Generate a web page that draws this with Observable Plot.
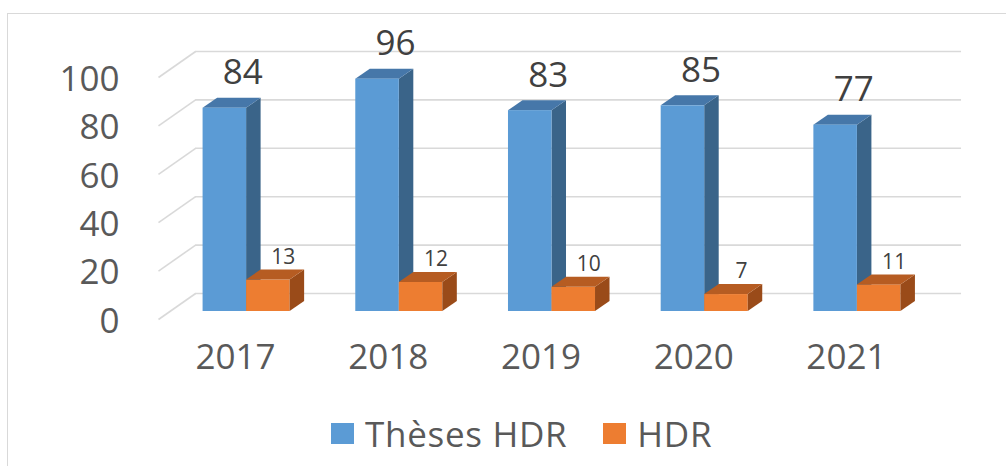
<!DOCTYPE html>
<html><head><meta charset="utf-8">
<script src="https://cdn.jsdelivr.net/npm/d3@7"></script>
<script src="https://cdn.jsdelivr.net/npm/@observablehq/plot@0.6"></script>
<style>
body{margin:0;background:#fff;width:1006px;height:466px;overflow:hidden;position:relative;font-family:"Open Sans",sans-serif;}
#frame{position:absolute;left:7px;top:13px;width:1100px;height:600px;border:1.5px solid #d9d9d9;}
#chart{position:absolute;left:0;top:0;}
#legend{position:absolute;left:331px;top:410px;display:flex;align-items:center;font-size:35px;color:#595959;line-height:normal;white-space:nowrap;letter-spacing:0.7px;}
.sw{width:23px;height:21px;display:inline-block;margin-right:11px;}
</style></head><body>
<div id="frame"></div>
<div id="chart"></div>
<div id="legend"></div>
<script>
const years = ["2017", "2018", "2019", "2020", "2021"];
const theses = [84, 96, 83, 85, 77];
const hdr = [13, 12, 10, 7, 11];
const seriesNames = ["Thèses HDR", "HDR"];
const yTicks = [0, 20, 40, 60, 80, 100];

// colours: front, top, side
const palette = [
  {front: "#5b9bd5", top: "#4677a9", side: "#3a6489"},
  {front: "#ed7d31", top: "#b65c22", side: "#9a4b19"}
];

// layout constants (x in group units, y in value units)
const W = 0.285;      // bar width
const DX = 0.095;     // bar depth, horizontal
const DY = 4.13;      // bar depth, vertical
const PXU = 100 / 242; // value units per pixel
const WALL_X0 = -0.334, WALL_X1 = 4.682, FLOOR_X0 = -0.577;
const FRONT_OFF = -8 * PXU, BACK_OFF = 18 * PXU;

const values = [theses, hdr];
const bars = years.flatMap((yr, i) => [0, 1].map(s => {
  const x1 = i - W + s * W;
  return {i, s, yr, v: values[s][i], x1, x2: x1 + W, id: yr + "-" + s};
}));

const sidePts = s => bars.filter(b => b.s === s).flatMap(b => [
  {id: b.id, x: b.x2, y1: 0, y2: b.v},
  {id: b.id, x: b.x2 + DX, y1: DY, y2: b.v + DY}
]);
const topPts = s => bars.filter(b => b.s === s).flatMap(b => [
  {id: b.id, y: b.v, x1: b.x1, x2: b.x2},
  {id: b.id, y: b.v + DY, x1: b.x1 + DX, x2: b.x2 + DX}
]);

const chart = Plot.plot({
  width: 1006,
  height: 400,
  marginLeft: 169.75,
  marginRight: 72.75,
  marginTop: 69,
  marginBottom: 89,
  x: {domain: [-0.5, 4.5], axis: null},
  y: {domain: [0, 100]},
  style: {fontFamily: "Open Sans", background: "transparent", overflow: "visible"},
  marks: [
    Plot.ruleY(yTicks, {y: d => d, x1: WALL_X0, x2: WALL_X1, dy: -18, stroke: "#d9d9d9", strokeWidth: 1.6}),
    Plot.link(yTicks, {x1: FLOOR_X0, y1: d => d + FRONT_OFF, x2: WALL_X0, y2: d => d + BACK_OFF, stroke: "#d9d9d9", strokeWidth: 1.6}),
    Plot.axisY(yTicks, {tickSize: 0, tickPadding: 50.75, dy: 10, fontSize: 35, fill: "#595959", label: null}),
    Plot.text(years, {x: (d, i) => i, frameAnchor: "bottom", dy: 57, dx: -11, text: d => d, fontSize: 35, fill: "#595959"}),
    // blue: side & top first, then front
    Plot.areaY(sidePts(0), {x: "x", y1: "y1", y2: "y2", z: "id", fill: palette[0].side}),
    Plot.areaX(topPts(0), {y: "y", x1: "x1", x2: "x2", z: "id", fill: palette[0].top}),
    Plot.rectY(bars.filter(b => b.s === 0), {x1: "x1", x2: "x2", y1: 0, y2: "v", fill: palette[0].front}),
    // orange
    Plot.rectY(bars.filter(b => b.s === 1), {x1: "x1", x2: "x2", y1: 0, y2: "v", fill: palette[1].front}),
    Plot.areaY(sidePts(1), {x: "x", y1: "y1", y2: "y2", z: "id", fill: palette[1].side}),
    Plot.areaX(topPts(1), {y: "y", x1: "x1", x2: "x2", z: "id", fill: palette[1].top}),
    Plot.text(bars.filter(b => b.s === 0), {x: d => (d.x1 + d.x2) / 2 + 0.118, y: "v", dy: -35, text: d => String(d.v), fontSize: 35, fill: "#404040"}),
    Plot.text(bars.filter(b => b.s === 1), {x: d => (d.x1 + d.x2) / 2 + 0.098, y: "v", dy: -23, text: d => String(d.v), fontSize: 21, fill: "#404040"})
  ]
});
document.getElementById("chart").appendChild(chart);

const legend = document.getElementById("legend");
seriesNames.forEach((name, s) => {
  const item = document.createElement("span");
  item.style.display = "inline-flex";
  item.style.alignItems = "center";
  if (s > 0) item.style.marginLeft = "36px";
  const sw = document.createElement("span");
  sw.className = "sw";
  sw.style.background = palette[s].front;
  const t = document.createElement("span");
  t.textContent = name;
  item.appendChild(sw);
  item.appendChild(t);
  legend.appendChild(item);
});
</script>
</body></html>
